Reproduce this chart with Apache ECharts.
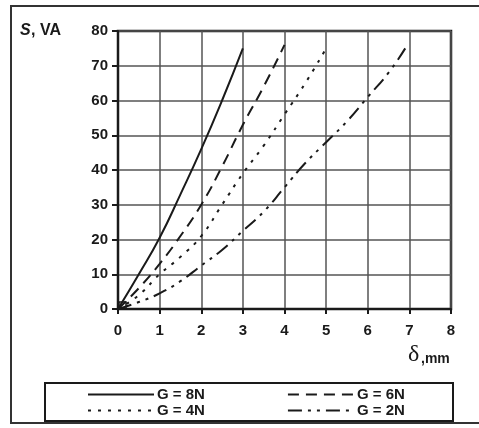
<!DOCTYPE html>
<html>
<head>
<meta charset="utf-8">
<script src="https://cdn.jsdelivr.net/npm/echarts@6/dist/echarts.min.js"></script>
<style>
  html, body { margin: 0; padding: 0; background: #fff; }
  #chart { width: 479px; height: 428px; }
</style>
</head>
<body>
<div id="chart"></div>
<script>
// curves: [delta mm, S VA]
const g8 = [[0, 0], [0.5, 10], [1, 20.5], [1.5, 33], [2, 46], [2.5, 60], [3, 75]];
const g6 = [[0, 0], [0.5, 6], [1, 13], [1.5, 21], [2, 30], [2.5, 41], [3, 53], [3.5, 64], [4, 76]];
const g4 = [[0, 0], [0.5, 4], [1, 10], [1.5, 15], [2, 21], [2.5, 30], [3, 39], [3.5, 47], [4, 56], [4.5, 65], [5, 75]];
const g2 = [[0, 0], [0.5, 2], [1, 4.5], [1.5, 8], [2, 12.5], [2.5, 17], [3, 22.5], [3.5, 28], [4, 35], [4.5, 42], [5, 48], [5.5, 54], [6, 61], [6.5, 68], [6.9, 75]];
const names = ['G = 8N', 'G = 6N', 'G = 4N', 'G = 2N'];

const ink = '#1a1a1a';
const gridCol = '#555';

function line(name, data, dash) {
  return {
    name: name,
    type: 'line',
    data: data,
    smooth: true,
    symbol: 'none',
    lineStyle: { color: ink, width: 2, type: dash },
    itemStyle: { color: ink }
  };
}

function legendRow(items, top) {
  return {
    data: items, left: 82, top: top, itemWidth: 66, itemHeight: 12,
    itemGap: 82,
    itemStyle: { opacity: 0 },
    textStyle: { color: ink, fontSize: 15, fontWeight: 'bold', padding: [0, 0, 0, -2] }
  };
}

let chart = echarts.init(document.getElementById('chart'));
chart.setOption({
  animation: false,
  textStyle: { fontFamily: 'Liberation Sans, Arial, sans-serif' },
  grid: { left: 118, right: 28, top: 31, bottom: 119 },
  xAxis: {
    type: 'value', min: 0, max: 8, interval: 1,
    axisLine: { onZero: false, lineStyle: { color: ink, width: 2 } },
    axisTick: { show: true, length: 5, lineStyle: { color: ink, width: 2 } },
    axisLabel: { color: ink, fontSize: 15, fontWeight: 'bold', margin: 14 },
    splitLine: { show: true, lineStyle: { color: gridCol, width: 1.5 } }
  },
  yAxis: {
    type: 'value', min: 0, max: 80, interval: 10,
    axisLine: { show: true, onZero: false, lineStyle: { color: ink, width: 2 } },
    axisTick: { show: true, length: 6, lineStyle: { color: ink, width: 2 } },
    axisLabel: { color: ink, fontSize: 15, fontWeight: 'bold', margin: 10 },
    splitLine: { show: true, lineStyle: { color: gridCol, width: 1.5 } }
  },
  legend: [legendRow([names[0], names[1]], 382), legendRow([names[2], names[3]], 398)],
  graphic: [
    { type: 'rect', shape: { x: 11, y: 6, width: 480, height: 417 }, style: { fill: 'none', stroke: '#333', lineWidth: 2 }, silent: true },
    { type: 'rect', shape: { x: 118, y: 31, width: 333, height: 278 }, style: { fill: 'none', stroke: ink, lineWidth: 2.5 }, silent: true },
    { type: 'rect', shape: { x: 45, y: 383, width: 408, height: 38 }, style: { fill: 'none', stroke: ink, lineWidth: 2 }, silent: true },
    { type: 'rect', shape: { x: 119, y: 302, width: 7, height: 7 }, style: { fill: 'none', stroke: ink, lineWidth: 1.5 }, silent: true },
    { type: 'text', left: 20, top: 23, style: { text: 'S', font: 'italic bold 16px Liberation Sans', fill: ink } },
    { type: 'text', left: 31, top: 23, style: { text: ', VA', font: 'bold 16px Liberation Sans', fill: ink } },
    { type: 'text', left: 408, top: 343, style: { text: 'δ', font: '24px Liberation Serif', fill: ink } },
    { type: 'text', left: 421, top: 352, style: { text: ',mm', font: 'bold 14px Liberation Sans', fill: ink } }
  ],
  series: [
    line(names[0], g8, 'solid'),
    line(names[1], g6, [11, 7]),
    line(names[2], g4, [3, 7]),
    line(names[3], g2, [14, 6, 3, 6, 3, 6])
  ]
});
</script>
</body>
</html>
